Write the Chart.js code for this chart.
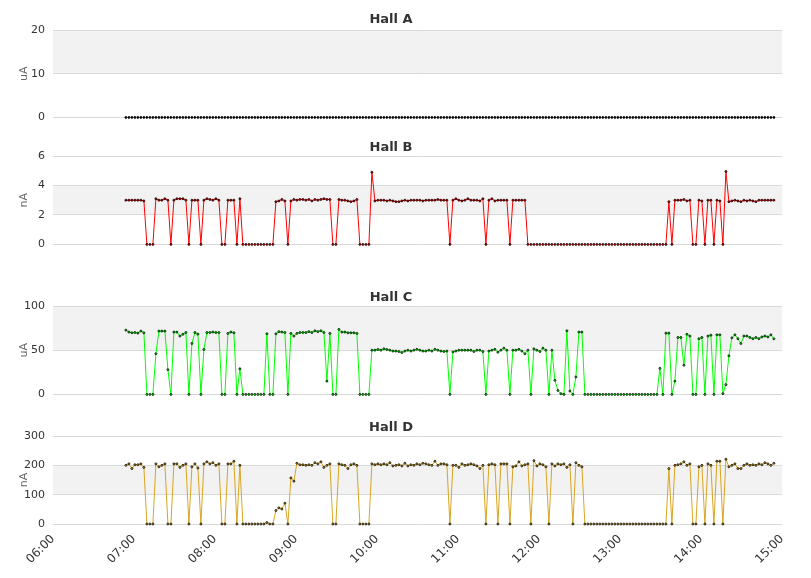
<!DOCTYPE html>
<html><head><meta charset="utf-8">
<script src="https://cdn.jsdelivr.net/npm/chart.js@4.4.1/dist/chart.umd.min.js"></script>
<style>
html,body{margin:0;padding:0;background:#fff;}
#wrap{position:relative;width:811px;height:578px;overflow:hidden;background:#fff}
.p{position:absolute;left:0;width:811px}
canvas{display:block}
</style></head><body>
<div id="wrap">
<div class="p" style="top:0px"><canvas id="cA" width="811" height="132"></canvas></div>
<div class="p" style="top:128px"><canvas id="cB" width="811" height="131"></canvas></div>
<div class="p" style="top:278px"><canvas id="cC" width="811" height="131"></canvas></div>
<div class="p" style="top:408px"><canvas id="cD" width="811" height="170"></canvas></div>
</div>
<script>
// ---- data ----
const TITLES = ['Hall A', 'Hall B', 'Hall C', 'Hall D'];
const UNITS = ['uA', 'nA', 'uA', 'nA'];
const X_TICK_LABELS = ['06:00','07:00','08:00','09:00','10:00','11:00','12:00','13:00','14:00','15:00'];
const START_MIN = 54;      // first sample, minutes after 06:00
const STEP_MIN = 2.2222;   // sampling interval in minutes

const hallA = [
0,0,0,0,0,0,0,0,0,0, 0,0,0,0,0,0,0,0,0,0, 0,0,0,0,0,0,0,0,0,0, 0,0,0,0,0,0,0,0,0,0,
0,0,0,0,0,0,0,0,0,0, 0,0,0,0,0,0,0,0,0,0, 0,0,0,0,0,0,0,0,0,0, 0,0,0,0,0,0,0,0,0,0,
0,0,0,0,0,0,0,0,0,0, 0,0,0,0,0,0,0,0,0,0, 0,0,0,0,0,0,0,0,0,0, 0,0,0,0,0,0,0,0,0,0,
0,0,0,0,0,0,0,0,0,0, 0,0,0,0,0,0,0,0,0,0, 0,0,0,0,0,0,0,0,0,0, 0,0,0,0,0,0,0,0,0,0,
0,0,0,0,0,0,0,0,0,0, 0,0,0,0,0,0,0,0,0,0, 0,0,0,0,0,0,0,0,0,0, 0,0,0,0,0,0,0,0,0,0,
0,0,0,0,0,0,0,0,0,0, 0,0,0,0,0,0,0
];
const hallB = [
3.0,3.0,3.0,3.0,3.0,3.0,2.95, 0,0,0, 3.1,3.0,3.0,3.1,3.0, 0, 3.0,3.1,3.1,3.1,3.0, 0, 3.0,3.0,3.0, 0,
3.0,3.1,3.05,3.0,3.1,3.0, 0,0, 3.0,3.0,3.0, 0, 3.1, 0,0,0,0,0,0,0,0,0,0,0, 2.9,2.95,3.05,2.95, 0,
2.95,3.05,3.0,3.05,3.05,3.0,3.05,2.95,3.05,3.0,3.05,3.1,3.05,3.05, 0,0, 3.05,3.0,3.0,2.95,2.9,2.95,3.05, 0,0,0,0, 4.9,
2.95,3.0,3.0,3.0,2.95,3.0,2.95,2.9,2.9,2.95,3.0,2.95,3.0,3.0,3.0,3.0,2.95,3.0,3.0,3.0,3.0,3.05,3.0,3.0,3.0, 0,
3.0,3.1,3.0,2.95,3.0,3.1,3.0,3.0,3.0,2.95,3.1, 0, 3.0,3.1,2.95,3.0,3.0,3.0,3.0, 0, 3.0,3.0,3.0,3.0,3.0,
0,0,0,0,0,0,0,0,0,0, 0,0,0,0,0,0,0,0,0,0, 0,0,0,0,0,0,0,0,0,0, 0,0,0,0,0,0,0,0,0,0, 0,0,0,0,0,0,0,
2.9, 0, 3.0,3.0,3.0,3.05,2.95,3.0, 0,0, 3.0,2.95, 0, 3.0,3.0, 0, 3.0,2.95, 0, 4.95,
2.9,2.95,3.0,2.95,2.9,3.0,2.95,3.0,2.95,2.9,3.0,3.0,3.0,3.0,3.0,3.0
];
const hallC = [
72.7,70.5,69.7,70,69.3,71.6,69.7, 0,0,0, 46,71.6,71.6,71.6,28, 0, 70.5,70.5,66,68,70, 0, 57.6,70,68.2, 0,
50.8,70,70,70.5,70,70, 0,0, 69,70.5,69.7, 0, 29, 0,0,0,0,0,0,0,0, 68.6, 0,0, 68.6,71,70.5,70, 0,
69,66,69,70,70,70,71,70,72,71,72,70,15,69, 0,0, 73.5,70.5,70.5,69.7,69.7,69.7,69, 0,0,0,0,
50,50,50.8,50,51.5,50.8,50,49,49,48.5,47.3,49,50,49,50,51,50,49,49,50,49,51,50,49,48.5,49, 0,
48,49,50,50,50,50,50,48.5,50,50,48.5, 0, 49,50,51,47.7,50,52.3,50, 0, 50,50,51,49,46,50, 0,
51.5,50,48.5,52.3,50, 0, 50,16,4.5,0.8,0,72,3.8,0,19.7,70.5,70.5,
0,0,0,0,0,0,0,0,0,0, 0,0,0,0,0,0,0,0,0,0, 0,0,0,0,0,
29.5, 0, 69.3,69.3, 0, 15,64.4,64.4,33,68,66, 0,0, 63,64.4, 0, 66,67, 0, 67.4,67.4, 0.8,
11,43.6,64,67.4,63,57.6,66,66,64.4,63,64.4,63,65,66,65,67.4,62.9
];
const hallD = [
200,205,189,202,202,205,193, 0,0,0, 205,195,200,205, 0,0, 205,205,193,200,205, 0, 195,205,191, 0,
205,212,205,209,200,205, 0,0, 205,205,214, 0, 200, 0,0,0,0,0,0,0,0, 5, 0,0, 46,55,51,71, 0,
157,146,207,202,202,200,202,200,209,205,212,193,200,205, 0,0, 205,202,200,189,202,205,200, 0,0,0,0,
205,202,205,202,205,202,209,198,200,202,198,207,198,202,200,205,202,207,205,202,200,214,200,205,205,202, 0,
200,200,193,205,200,202,205,202,198,189,200, 0, 202,205,202, 0, 205,205,205, 0, 195,198,212,198,202,205, 0,
216,198,205,202,195, 0, 205,198,205,202,205,193,202, 0, 209,200,195,
0,0,0,0,0,0,0,0,0,0, 0,0,0,0,0,0,0,0,0,0, 0,0,0,0,0,0,0,0,
189, 0, 200,202,205,212,200,205, 0,0, 195,200, 0, 205,200, 0, 214,214, 0, 221,
195,200,205,189,189,200,205,200,202,200,205,202,209,205,200,207
];
const Y_MAX = [20, 6, 100, 300];
const Y_STEP = [10, 2, 50, 100];
const BANDS = [[10, 20], [2, 4], [50, 100], [100, 200]];
const COLORS = ['#000000', '#ff0000', '#00ff00', '#daa520'];

// ---- chart ----
const FONT = 'DejaVu Sans';
Chart.defaults.font.family = FONT;
const TIMES = hallA.map((_, i) => START_MIN + i * STEP_MIN);

const bandPlugin = {
  id: 'bands',
  beforeDraw(chart, args, opts) {
    const {ctx, chartArea: a, scales: {y}} = chart;
    const top = y.getPixelForValue(opts.to), bot = y.getPixelForValue(opts.from);
    ctx.save();
    ctx.fillStyle = opts.color;
    ctx.fillRect(a.left, top, a.right - a.left, bot - top);
    ctx.restore();
  }
};

function build(id, k, values, showX, padBottom, titleGap) {
  return new Chart(document.getElementById(id), {
    type: 'line',
    data: { datasets: [{
      data: values.map((v, i) => ({x: TIMES[i], y: v})),
      borderColor: COLORS[k], borderWidth: 1, tension: 0,
      pointRadius: 1, pointBorderWidth: 0.8, pointBorderColor: '#000',
      pointBackgroundColor: COLORS[k], clip: 4,
      segment: { borderColor: c => (c.p0.parsed.y === 0 && c.p1.parsed.y === 0) ? 'rgba(0,0,0,0)' : undefined }
    }]},
    options: {
      responsive: false, animation: false,
      layout: { padding: { left: 0, right: 29, top: 12, bottom: padBottom } },
      plugins: {
        legend: { display: false }, tooltip: { enabled: false },
        title: { display: true, text: TITLES[k], color: '#333',
                 font: { family: FONT, size: 13, weight: 'bold' },
                 padding: { top: 0, bottom: titleGap } },
        bands: { from: BANDS[k][0], to: BANDS[k][1], color: '#f2f2f2' }
      },
      scales: {
        x: { type: 'linear', min: 0, max: 540, display: showX,
             ticks: { stepSize: 60, autoSkip: false, maxRotation: 45, minRotation: 45,
                      color: '#333', font: { family: FONT, size: 12 }, padding: 8,
                      callback: (v, i) => X_TICK_LABELS[i] },
             grid: { display: false, drawTicks: false }, border: { display: false },
             afterFit: s => { if (showX) s.height = 54; } },
        y: { min: 0, max: Y_MAX[k],
             ticks: { stepSize: Y_STEP[k], color: '#333', font: { family: FONT, size: 11 }, padding: 8 },
             grid: { color: '#d9d9d9', drawTicks: false }, border: { display: false },
             title: { display: true, text: UNITS[k], color: '#666', font: { family: FONT, size: 11 },
                      padding: { top: 18, bottom: 0 } },
             afterFit: s => { s.width = 53; } }
      }
    },
    plugins: [bandPlugin]
  });
}

build('cA', 0, hallA, false, 1, 2.4);
build('cB', 1, hallB, false, 1, 0.4);
build('cC', 2, hallC, false, 1, 0.4);
build('cD', 3, hallD, true, 0, 0.4);
</script>
</body></html>
